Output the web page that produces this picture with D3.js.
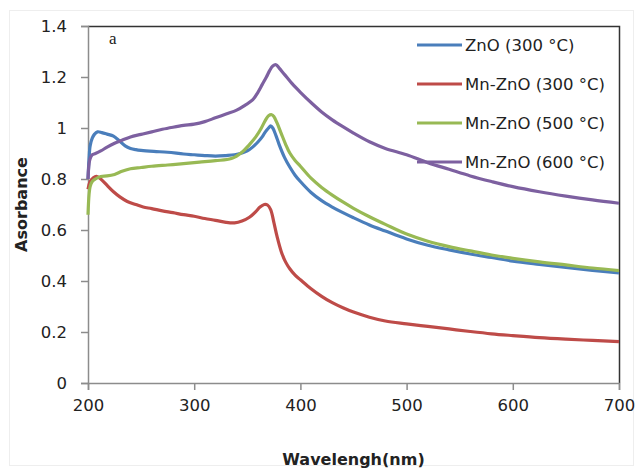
<!DOCTYPE html>
<html>
<head>
<meta charset="utf-8">
<script src="https://cdn.jsdelivr.net/npm/d3@7"></script>
<style>
    body { margin: 0; background: #fff; }
    text { fill: #222; }
</style>
</head>
<body>
<div id="chart"></div>
<script>
// absorbance spectra
const xTicks = [200, 300, 400, 500, 600, 700];
const yTicks = [0, 0.2, 0.4, 0.6, 0.8, 1, 1.2, 1.4];

const seriesNames = ["ZnO (300 °C)", "Mn-ZnO (300 °C)", "Mn-ZnO (500 °C)", "Mn-ZnO (600 °C)"];
const seriesColors = ["#4a7ebb", "#be4b48", "#98b954", "#7d60a0"];

const znoWl = [200, 201, 202, 204, 206, 209, 213, 218, 224, 230, 235, 240, 245, 250, 262, 275, 290, 300, 310, 320, 330, 338, 345, 350, 355, 360, 364, 367, 370, 372, 374, 377, 380, 385, 390, 395, 400, 410, 420, 430, 440, 450, 465, 480, 500, 520, 540, 560, 580, 600, 625, 650, 675, 700];
const znoAbs = [0.80, 0.88, 0.93, 0.96, 0.975, 0.985, 0.982, 0.976, 0.968, 0.948, 0.93, 0.92, 0.915, 0.912, 0.908, 0.905, 0.898, 0.895, 0.892, 0.89, 0.892, 0.895, 0.902, 0.91, 0.925, 0.945, 0.965, 0.985, 1.0, 1.008, 1.0, 0.97, 0.935, 0.885, 0.847, 0.815, 0.79, 0.747, 0.715, 0.69, 0.668, 0.648, 0.62, 0.596, 0.565, 0.54, 0.522, 0.506, 0.492, 0.478, 0.465, 0.453, 0.442, 0.432];

const mn300Wl = [200, 202, 205, 208, 212, 218, 224, 230, 237, 245, 252, 260, 270, 280, 290, 300, 310, 320, 330, 338, 345, 352, 358, 362, 366, 369, 372, 375, 378, 382, 386, 390, 395, 400, 410, 420, 430, 440, 450, 465, 480, 500, 520, 540, 560, 580, 600, 625, 650, 675, 700];
const mn300Abs = [0.76, 0.79, 0.805, 0.81, 0.80, 0.775, 0.75, 0.73, 0.712, 0.70, 0.69, 0.684, 0.675, 0.668, 0.66, 0.654, 0.645, 0.638, 0.63, 0.628, 0.635, 0.65, 0.672, 0.69, 0.70, 0.698, 0.68, 0.63, 0.575, 0.515, 0.475, 0.448, 0.423, 0.405, 0.37, 0.34, 0.315, 0.295, 0.278, 0.258, 0.243, 0.232, 0.222, 0.212, 0.202, 0.193, 0.186, 0.178, 0.172, 0.167, 0.162];

const mn500Wl = [200, 201, 202, 204, 207, 212, 218, 225, 232, 240, 250, 260, 275, 290, 305, 320, 335, 345, 352, 358, 363, 367, 370, 373, 375, 378, 382, 386, 390, 395, 400, 410, 420, 430, 440, 450, 465, 480, 500, 520, 540, 560, 580, 600, 625, 650, 675, 700];
const mn500Abs = [0.66, 0.74, 0.77, 0.79, 0.80, 0.81, 0.812, 0.818, 0.83, 0.84, 0.845, 0.85, 0.855, 0.86, 0.866, 0.872, 0.88, 0.905, 0.935, 0.965, 0.998, 1.03, 1.048, 1.052, 1.045, 1.02, 0.978, 0.937, 0.902, 0.873, 0.85, 0.803, 0.767, 0.737, 0.71, 0.685, 0.652, 0.622, 0.584, 0.556, 0.535, 0.518, 0.502, 0.489, 0.475, 0.463, 0.451, 0.441];

const mn600Wl = [200, 201, 202, 204, 207, 212, 218, 225, 232, 240, 250, 260, 270, 280, 290, 300, 310, 320, 330, 340, 348, 355, 360, 364, 368, 371, 374, 377, 380, 384, 388, 392, 396, 400, 410, 420, 430, 440, 450, 465, 480, 500, 520, 540, 560, 580, 600, 625, 650, 675, 700];
const mn600Abs = [0.80, 0.86, 0.88, 0.895, 0.90, 0.91, 0.925, 0.94, 0.952, 0.965, 0.975, 0.985, 0.995, 1.003, 1.01, 1.015, 1.025, 1.04, 1.055, 1.07, 1.09, 1.11, 1.14, 1.17, 1.20, 1.225, 1.243, 1.248, 1.235, 1.215, 1.195, 1.175, 1.157, 1.14, 1.10, 1.063, 1.032, 1.005, 0.98, 0.946, 0.92, 0.895, 0.864, 0.838, 0.812, 0.79, 0.77, 0.75, 0.733, 0.718, 0.705];

const seriesWl = [znoWl, mn300Wl, mn500Wl, mn600Wl];
const seriesAbs = [znoAbs, mn300Abs, mn500Abs, mn600Abs];

const width = 638, height = 469;
const margin = { top: 26, right: 19, bottom: 86, left: 88 };

const svg = d3.select("#chart").append("svg")
    .attr("width", width)
    .attr("height", height);

// faint outer frame of the chart area
svg.append("rect")
    .attr("x", 9.5).attr("y", 10.5)
    .attr("width", width - 14).attr("height", height - 14)
    .attr("fill", "none").attr("stroke", "#eeeeee");

const x = d3.scaleLinear().domain([200, 700]).range([margin.left, width - margin.right]);
const y = d3.scaleLinear().domain([0, 1.4]).range([height - margin.bottom, margin.top]);

// plot border: dark top and right edge
svg.append("path")
    .attr("d", `M${x(200)},${y(1.4) + 0.5}H${x(700) + 0.5}V${y(0)}`)
    .attr("fill", "none").attr("stroke", "#333").attr("stroke-width", 1.5);

const xAxis = svg.append("g")
    .attr("transform", `translate(0,${y(0)})`)
    .call(d3.axisBottom(x).tickValues(xTicks).tickSize(7).tickPadding(9));

const yAxis = svg.append("g")
    .attr("transform", `translate(${x(200)},0)`)
    .call(d3.axisLeft(y).tickValues(yTicks).tickSize(7).tickPadding(14)
        .tickFormat(d => String(+d.toFixed(1))));

[xAxis, yAxis].forEach(g => {
    g.select(".domain").attr("stroke", "#8c8c8c").attr("stroke-width", 1.5);
    g.selectAll(".tick line").attr("stroke", "#8c8c8c").attr("stroke-width", 1.5);
    g.selectAll(".tick text")
        .attr("font-family", "DejaVu Sans, sans-serif")
        .attr("font-size", 16.5)
        .attr("fill", "#222");
});

const line = d3.line()
    .x(d => x(d[0]))
    .y(d => y(d[1]))
    .curve(d3.curveCatmullRom.alpha(0.5));

seriesNames.forEach((name, i) => {
    const pts = d3.zip(seriesWl[i], seriesAbs[i]);
    svg.append("path")
        .datum(pts)
        .attr("d", line)
        .attr("fill", "none")
        .attr("stroke", seriesColors[i])
        .attr("stroke-width", 3.2)
        .attr("stroke-linejoin", "round");
});

// legend
const legend = svg.append("g").attr("transform", "translate(417,45)");
seriesNames.forEach((name, i) => {
    const row = legend.append("g").attr("transform", `translate(0,${i * 39})`);
    row.append("line")
        .attr("x1", 0).attr("x2", 45)
        .attr("stroke", seriesColors[i]).attr("stroke-width", 3.2);
    row.append("text")
        .attr("x", 48).attr("dy", "0.36em")
        .attr("font-family", "DejaVu Sans, sans-serif")
        .attr("font-size", 16.5)
        .text(name);
});

// panel letter
svg.append("text")
    .attr("x", 109).attr("y", 44)
    .attr("font-family", "Liberation Serif, serif")
    .attr("font-size", 17)
    .text("a");

// axis titles
svg.append("text")
    .attr("x", (x(200) + x(700)) / 2).attr("y", 465)
    .attr("text-anchor", "middle")
    .attr("font-family", "DejaVu Sans, sans-serif")
    .attr("font-weight", "bold").attr("font-size", 16)
    .text("Wavelengh(nm)");

svg.append("text")
    .attr("transform", `translate(27,${(y(0) + y(1.4)) / 2}) rotate(-90)`)
    .attr("text-anchor", "middle")
    .attr("font-family", "DejaVu Sans, sans-serif")
    .attr("font-weight", "bold").attr("font-size", 16)
    .text("Asorbance");
</script>
</body>
</html>
